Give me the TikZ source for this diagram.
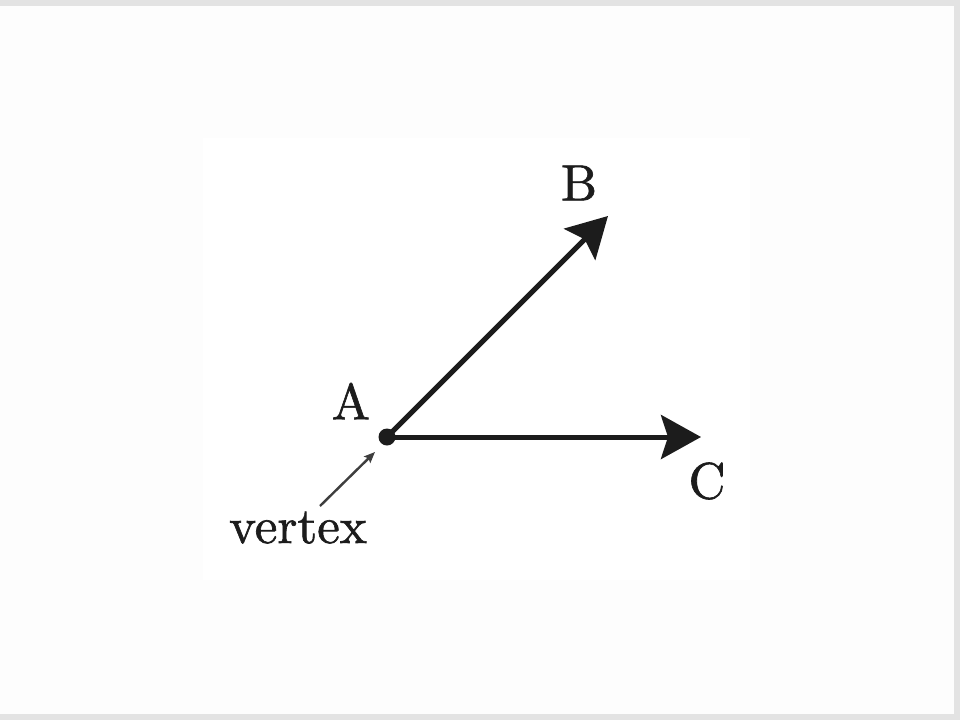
\documentclass[tikz,border=0pt]{standalone}
\usepackage{fontspec}
\newfontface\lblfont{lmroman10-regular.otf}[FakeBold=1.2]
\usetikzlibrary{arrows.meta}
\definecolor{ink}{HTML}{1C1C1C}
\definecolor{frame}{HTML}{E3E3E3}
\definecolor{outerbg}{HTML}{FDFDFD}
\tikzset{
  ray/.style={draw=ink, line width=5pt, -{Stealth[length=40pt,width=44pt,inset=7pt]}},
  pointer/.style={draw=ink!85, line width=2.4pt, -{Stealth[length=11pt,width=9pt,inset=2pt]}},
  lbl/.style={inner sep=0pt, text=ink, font=\lblfont\fontsize{51}{56}\selectfont},
}
\begin{document}
\begin{tikzpicture}[x=1pt,y=-1pt]
  \useasboundingbox (0,0) rectangle (960,720);
  \fill[frame] (0,0) rectangle (960,720);
  \fill[outerbg] (0,6) rectangle (954,714);
  \fill[white] (203,138) rectangle (750,580);
  \coordinate (A) at (387,437);
  \coordinate (Btip) at (608,216);
  \coordinate (Ctip) at (701,437);
  \coordinate (ptail) at (320,506);
  \coordinate (phead) at (375,452);
  \draw[ray] (A) -- (Btip);
  \draw[ray] (A) -- (Ctip);
  \fill[ink] (A) circle (8.5pt);
  \draw[pointer] (ptail) -- (phead);
  \node[lbl] (lA) at (351,401) {A};
  \node[lbl] (lB) at (579,183) {B};
  \node[lbl] (lC) at (707,481) {C};
  \node[lbl, anchor=base] (lv) at (298,543) {vertex};
\end{tikzpicture}
\end{document}
